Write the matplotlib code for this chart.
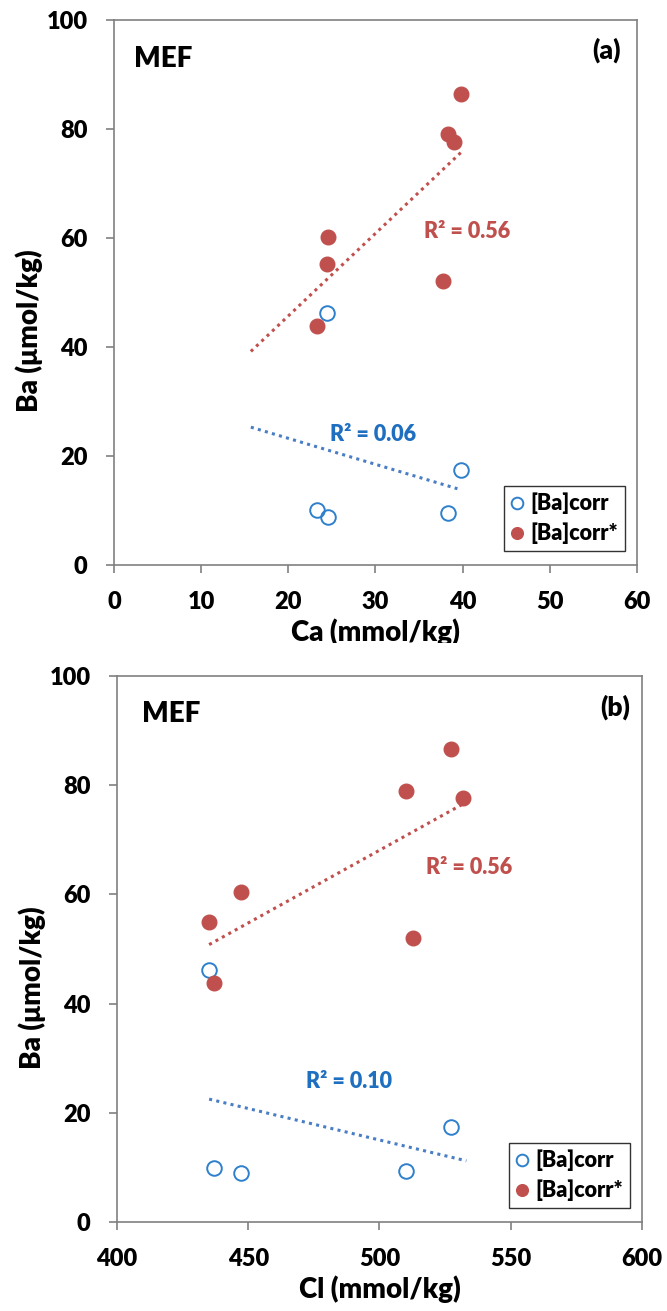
import matplotlib
matplotlib.use('Agg')
import matplotlib.pyplot as plt
from matplotlib.patches import Rectangle

plt.rcParams['font.family'] = ['Lato', 'DejaVu Sans']
plt.rcParams['font.weight'] = 'heavy'
plt.rcParams['axes.labelweight'] = 'heavy'

RED = '#c0504d'
BLUE = '#2f80cc'
BLUE_TXT = '#1f6fc0'
BLUE_LINE = '#4a7ec4'

# panel (a): Ba vs Ca
ca_corr = [24.4, 23.3, 24.5, 38.3, 39.85]
ba_corr_a = [46.3, 10.1, 8.9, 9.5, 17.5]
ca_star = [39.85, 38.3, 39.0, 24.5, 24.4, 37.8, 23.3]
ba_star_a = [86.5, 79.1, 77.6, 60.2, 55.2, 52.1, 43.8]
trend_a_star_x = [15.7, 39.8]
trend_a_star_y = [39.2, 75.7]
trend_a_corr_x = [15.7, 39.4]
trend_a_corr_y = [25.3, 14.0]

# panel (b): Ba vs Cl
cl_corr = [435.1, 437.0, 447.2, 510.2, 527.3]
ba_corr_b = [46.1, 9.8, 8.9, 9.4, 17.4]
cl_star = [527.3, 510.2, 532.0, 447.2, 435.1, 512.7, 437.0]
ba_star_b = [86.6, 79.0, 77.7, 60.4, 55.0, 52.1, 43.8]
trend_b_star_x = [435.1, 532.0]
trend_b_star_y = [50.8, 76.6]
trend_b_corr_x = [435.1, 533.1]
trend_b_corr_y = [22.5, 11.2]

fig = plt.figure(figsize=(6.67, 13.11), dpi=100)
ax_a = fig.add_axes([0.1709, 0.5690, 0.7841, 0.4157])
ax_b = fig.add_axes([0.1754, 0.0679, 0.7871, 0.4165])


def panel(ax, xc, yc, xs, ys, tsx, tsy, tcx, tcy, xlim, xticks, xlabel,
          tag, r2_star, r2_corr, pos):
    ax.plot(tsx, tsy, linestyle=(0, (1, 1.4)), color=RED, lw=2.2, zorder=2)
    ax.plot(tcx, tcy, linestyle=(0, (1, 1.4)), color=BLUE_LINE, lw=2.2, zorder=2)
    ax.plot(xc, yc, 'o', ms=10.5, mfc='none', mec=BLUE, mew=1.4,
            linestyle='none', label='[Ba]corr', zorder=3)
    ax.plot(xs, ys, 'o', ms=10.5, mfc=RED, mec=RED, linestyle='none',
            label='[Ba]corr*', zorder=4)

    ax.set_xlim(*xlim)
    ax.set_ylim(0, 100)
    ax.set_xticks(xticks)
    ax.set_yticks(range(0, 101, 20))
    for s in ax.spines.values():
        s.set_color('#808080')
        s.set_linewidth(1.2)
    ax.tick_params(direction='out', length=6, width=1.2, color='#808080',
                   labelsize=17, pad=13)
    ax.set_xlabel(xlabel, fontsize=20)
    ax.set_ylabel('Ba (\u03bcmol/kg)', fontsize=20)
    ax.xaxis.set_label_coords(0.5, -0.098)
    ax.yaxis.set_label_coords(-0.135, 0.43)

    ax.text(pos['mef'][0], pos['mef'][1], 'MEF', fontsize=20, va='center', ha='left')
    ax.text(pos['tag'][0], pos['tag'][1], tag, fontsize=19, va='center', ha='right')
    ax.text(pos['r2s'][0], pos['r2s'][1], r2_star, fontsize=15.5, color=RED,
            va='center', ha='left')
    ax.text(pos['r2c'][0], pos['r2c'][1], r2_corr, fontsize=15.5, color=BLUE_TXT,
            va='center', ha='left')

    leg = ax.legend(loc='lower right', bbox_to_anchor=(0.977, 0.026),
                    borderaxespad=0, fancybox=False, edgecolor='black',
                    fontsize=15.5, handlelength=0.6, handletextpad=0.35,
                    markerscale=0.8, borderpad=0.3, labelspacing=0.4)
    leg.get_frame().set_linewidth(1.0)


panel(ax_a, ca_corr, ba_corr_a, ca_star, ba_star_a,
      trend_a_star_x, trend_a_star_y, trend_a_corr_x, trend_a_corr_y,
      (0, 60), range(0, 61, 10), 'Ca (mmol/kg)', '(a)',
      'R\u00b2 = 0.56', 'R\u00b2 = 0.06',
      {'mef': (2.3, 92.8), 'tag': (58.1, 94.4), 'r2s': (35.6, 61.2), 'r2c': (24.8, 24.0)})

panel(ax_b, cl_corr, ba_corr_b, cl_star, ba_star_b,
      trend_b_star_x, trend_b_star_y, trend_b_corr_x, trend_b_corr_y,
      (400, 600), range(400, 601, 50), 'Cl (mmol/kg)', '(b)',
      'R\u00b2 = 0.56', 'R\u00b2 = 0.10',
      {'mef': (409.4, 93.0), 'tag': (595.6, 94.3), 'r2s': (517.7, 64.9), 'r2c': (471.9, 25.7)})

# the top panel's x label is cut off where the lower image starts
fig.add_artist(Rectangle((0, 0.4966), 1, 0.0129, transform=fig.transFigure,
                         facecolor='white', edgecolor='none', zorder=5))

fig.savefig('out.png', dpi=100)
